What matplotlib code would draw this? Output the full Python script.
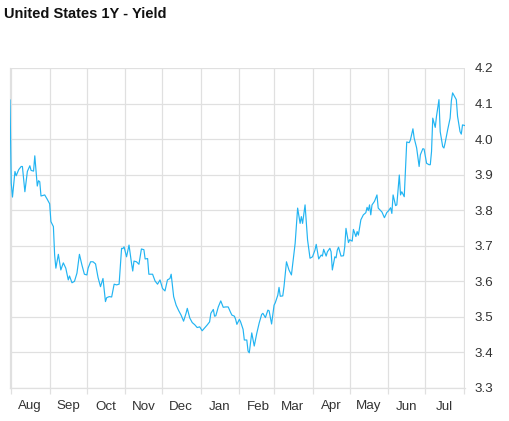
import numpy as np
import pandas as pd
import matplotlib
matplotlib.use("Agg")
import matplotlib.pyplot as plt
import matplotlib.dates as mdates
from matplotlib.ticker import FixedLocator, FuncFormatter

plt.rcParams['font.family'] = ['Liberation Sans', 'DejaVu Sans']

title = "United States 1Y - Yield"
start_date = "2025-08-01"

# days since start_date for each observation
days = [
    -1, 0, 1, 3, 4, 6, 8, 9, 11, 13, 15, 16, 18, 19, 21, 22, 23, 24, 26, 27,
    29, 31, 32, 34, 35, 36, 38, 40, 42, 44, 46, 47, 49, 51, 53, 55, 57, 59, 61, 62,
    64, 66, 68, 70, 72, 74, 76, 77, 79, 81, 83, 85, 87, 89, 90, 91, 93, 95, 97, 98,
    99, 101, 103, 105, 107, 108, 110, 111, 114, 116, 118, 120, 122, 124, 126, 128, 129, 131, 133, 135,
    137, 139, 141, 142, 144, 146, 148, 150, 152, 154, 156, 158, 160, 161, 163, 164, 165, 167, 169, 171,
    173, 175, 177, 178, 180, 181, 182, 184, 185, 187, 188, 190, 191, 192, 194, 196, 198, 200, 202, 203,
    205, 207, 208, 210, 212, 213, 215, 216, 217, 219, 220, 222, 224, 226, 229, 231, 233, 234, 235, 237,
    239, 241, 243, 245, 246, 248, 250, 251, 252, 254, 255, 257, 258, 259, 261, 262, 263, 264, 266, 268,
    269, 270, 272, 273, 275, 276, 278, 279, 280, 282, 284, 286, 287, 288, 289, 290, 291, 293, 295, 296,
    299, 301, 303, 304, 306, 307, 308, 310, 311, 313, 314, 315, 317, 319, 321, 322, 324, 325, 327, 329,
    330, 332, 333, 335, 337, 338, 339, 340, 342, 343, 345, 346, 348, 349, 350, 352, 354, 355, 356, 358,
    359, 360, 362, 363, 364, 366,
]

yields = [
    4.110, 3.876, 3.837, 3.909, 3.897, 3.914, 3.923, 3.923, 3.852, 3.909, 3.925, 3.912, 3.910, 3.953, 3.868, 3.883, 3.880, 3.840, 3.842, 3.843,
    3.831, 3.818, 3.768, 3.754, 3.674, 3.637, 3.676, 3.632, 3.652, 3.637, 3.604, 3.615, 3.596, 3.600, 3.623, 3.676, 3.646, 3.620, 3.618, 3.637,
    3.655, 3.655, 3.649, 3.611, 3.585, 3.608, 3.543, 3.554, 3.557, 3.556, 3.592, 3.590, 3.592, 3.693, 3.692, 3.697, 3.669, 3.702, 3.651, 3.629,
    3.657, 3.655, 3.648, 3.691, 3.689, 3.663, 3.664, 3.620, 3.620, 3.601, 3.592, 3.604, 3.580, 3.573, 3.604, 3.608, 3.620, 3.557, 3.533, 3.518,
    3.505, 3.488, 3.510, 3.524, 3.497, 3.484, 3.478, 3.470, 3.472, 3.461, 3.469, 3.477, 3.486, 3.510, 3.521, 3.502, 3.503, 3.528, 3.545, 3.527,
    3.528, 3.528, 3.512, 3.505, 3.502, 3.493, 3.479, 3.493, 3.486, 3.465, 3.435, 3.435, 3.404, 3.399, 3.455, 3.418, 3.453, 3.483, 3.507, 3.510,
    3.498, 3.519, 3.517, 3.480, 3.533, 3.540, 3.561, 3.583, 3.558, 3.559, 3.585, 3.655, 3.632, 3.618, 3.707, 3.806, 3.763, 3.782, 3.763, 3.815,
    3.717, 3.665, 3.669, 3.688, 3.704, 3.663, 3.674, 3.671, 3.690, 3.671, 3.683, 3.693, 3.683, 3.632, 3.669, 3.666, 3.688, 3.696, 3.671, 3.672,
    3.697, 3.749, 3.709, 3.717, 3.713, 3.746, 3.726, 3.740, 3.730, 3.773, 3.787, 3.793, 3.808, 3.799, 3.815, 3.787, 3.815, 3.825, 3.843, 3.806,
    3.795, 3.779, 3.794, 3.797, 3.807, 3.791, 3.843, 3.813, 3.815, 3.899, 3.843, 3.852, 3.838, 3.992, 3.990, 3.998, 4.029, 4.003, 3.975, 3.923,
    3.956, 3.973, 3.972, 3.932, 3.928, 3.928, 3.965, 4.059, 4.033, 4.064, 4.111, 4.021, 3.979, 3.975, 3.990, 4.026, 4.059, 4.108, 4.130, 4.117,
    4.111, 4.064, 4.021, 4.014, 4.040, 4.038,
]

y_ticks = [3.3, 3.4, 3.5, 3.6, 3.7, 3.8, 3.9, 4.0, 4.1, 4.2]
month_labels = ["Aug", "Sep", "Oct", "Nov", "Dec", "Jan", "Feb", "Mar", "Apr", "May", "Jun", "Jul"]

dates = pd.Timestamp(start_date) + pd.to_timedelta(days, unit="D")

grid_col = "#e0e0e0"
text_col = "#333333"

fig = plt.figure(figsize=(5.10, 4.21), dpi=100)
ax = fig.add_axes([10 / 510, 33 / 421, 455 / 510, 320 / 421])

ax.plot(dates, yields, color="#22b4f2", lw=0.85, zorder=3)

ax.set_xlim(dates[0], dates[-1])
ax.set_ylim(y_ticks[0], y_ticks[-1])

# month boundaries: gridlines + small tick marks
month_starts = pd.date_range(pd.Timestamp(start_date), periods=13, freq="MS")
month_mids = month_starts[:-1] + pd.Timedelta(days=15)
ax.xaxis.set_minor_locator(FixedLocator(mdates.date2num(month_starts)))
ax.xaxis.set_major_locator(FixedLocator(mdates.date2num(month_mids)))
ax.set_xticklabels(month_labels)
ax.tick_params(axis="x", which="major", length=0, pad=9, labelsize=9.6, labelcolor=text_col)
ax.tick_params(axis="x", which="minor", length=4, width=0.9, color=grid_col)
ax.grid(axis="x", which="minor", color=grid_col, lw=0.9)

ax.yaxis.tick_right()
ax.set_yticks(y_ticks)
ax.yaxis.set_major_formatter(FuncFormatter(lambda v, p: f"{v:.1f}"))
ax.tick_params(axis="y", length=0, pad=7, labelsize=9.6, labelcolor=text_col)
ax.grid(axis="y", color=grid_col, lw=0.9)

for s in ["top", "right"]:
    ax.spines[s].set_visible(False)
ax.spines["left"].set_color(grid_col)
ax.spines["left"].set_linewidth(0.9)
ax.spines["bottom"].set_color(grid_col)
ax.spines["bottom"].set_linewidth(0.9)
ax.set_axisbelow(True)

fig.text(4 / 510, 1 - 14.5 / 421, title, fontsize=10.5, fontweight="bold",
         color="#111111", ha="left", va="center")

fig.savefig("out.png", dpi=100)
